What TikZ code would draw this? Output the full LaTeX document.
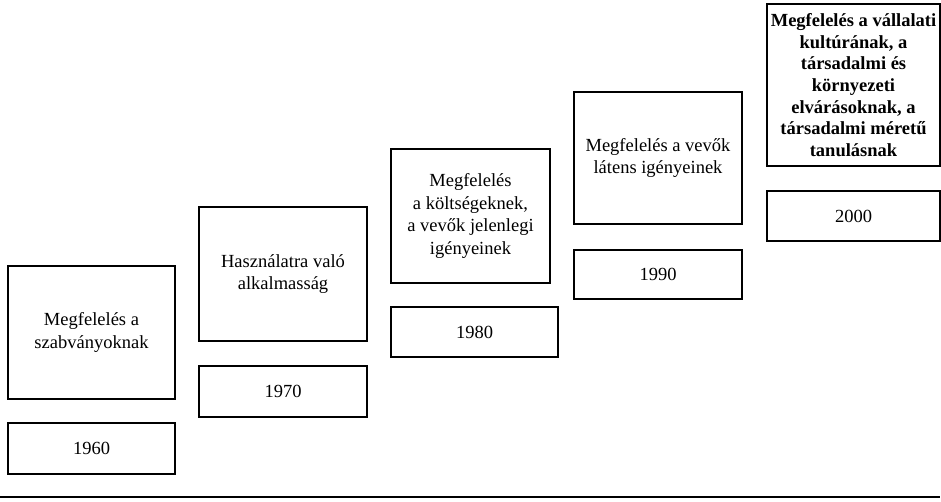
\documentclass[tikz,border=0pt]{standalone}
\usepackage{fontspec}
\setmainfont{Liberation Serif}
\begin{document}
\begin{tikzpicture}[x=1pt,y=-1pt,
  every node/.style={font=\fontsize{18.5}{22.5}\selectfont},
  stagebox/.style={draw=black,line width=2pt,align=center,inner sep=0pt},
  yearbox/.style={draw=black,line width=2pt,inner sep=0pt}]
\useasboundingbox (0,0) rectangle (941,501);
% stage descriptions, stepping upwards
\node[stagebox,minimum width=167,minimum height=133] (s1) at (91.5,332.5)
  {Megfelelés a\\szabványoknak};
\node[stagebox,minimum width=168,minimum height=134] (s2) at (283,274)
  {Használatra való\\alkalmasság};
\node[stagebox,minimum width=159,minimum height=134] (s3) at (470.5,216)
  {Megfelelés\\a költségeknek,\\a vevők jelenlegi\\igényeinek};
\node[stagebox,minimum width=168,minimum height=132] (s4) at (658,158)
  {Megfelelés a vevők\\látens igényeinek};
\node[stagebox,minimum width=173,minimum height=162,
  font=\fontsize{18.5}{21.7}\selectfont\bfseries] (s5) at (853.5,85)
  {Megfelelés a vállalati\\kultúrának, a\\társadalmi és\\környezeti\\elvárásoknak, a\\társadalmi méretű\\tanulásnak};
% decade labels under each stage
\node[yearbox,minimum width=167,minimum height=51] (y1) at (91.5,448.5) {1960};
\node[yearbox,minimum width=168,minimum height=51] (y2) at (283,391.5) {1970};
\node[yearbox,minimum width=167,minimum height=50] (y3) at (474.5,332) {1980};
\node[yearbox,minimum width=168,minimum height=49] (y4) at (658,274.5) {1990};
\node[yearbox,minimum width=173,minimum height=50] (y5) at (853.5,216) {2000};
% base line
\coordinate (b0) at (0,497);
\coordinate (b1) at (940,497);
\draw[line width=2.5pt] (b0) -- (b1);
\end{tikzpicture}
\end{document}
